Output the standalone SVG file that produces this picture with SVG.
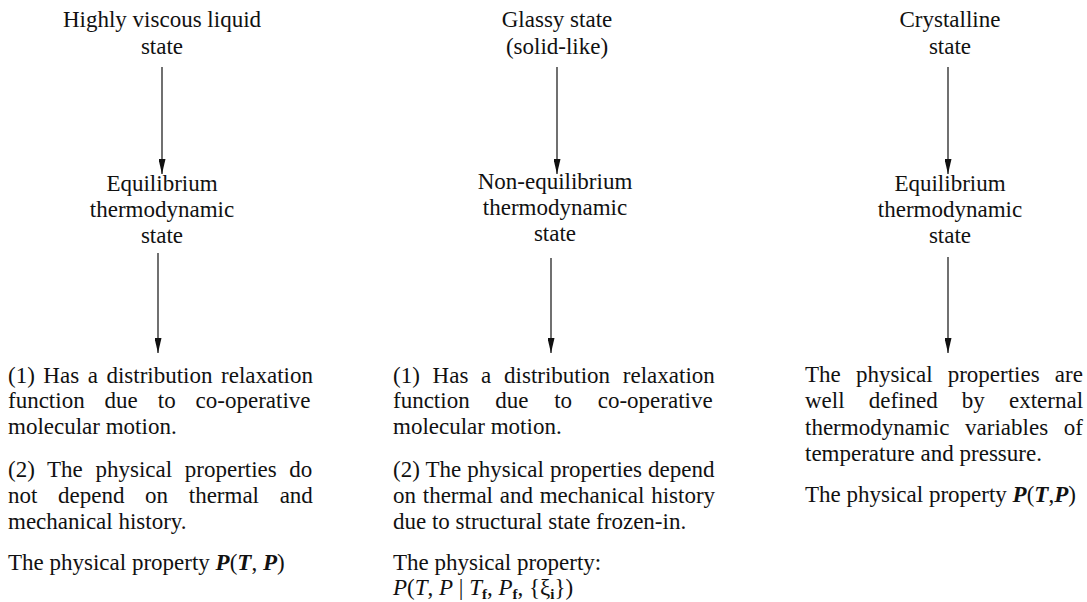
<svg xmlns="http://www.w3.org/2000/svg" width="1087" height="602" viewBox="0 0 1087 602">
<style>
  text { font-family: "Liberation Serif", "Times New Roman", serif; font-size: 23px; fill: #111; }
  .c { text-anchor: middle; }
  .bi { font-weight: bold; font-style: italic; }
  .it { font-style: italic; }
  .sub { font-size: 15px; font-weight: bold; }
  .conn { stroke: #111; stroke-width: 1.2; fill: none; marker-end: url(#ah); }
</style>
<defs>
  <marker id="ah" viewBox="0 0 15 7" refX="15" refY="3.5" markerWidth="15" markerHeight="7" markerUnits="userSpaceOnUse" orient="auto">
    <path d="M0,0 L15,3.5 L0,7 z" fill="#111"/>
  </marker>
</defs>
<rect width="1087" height="602" fill="#fff"/>

<g id="connectors">
  <line class="conn" x1="162" y1="67" x2="162" y2="174"/>
  <line class="conn" x1="158" y1="253" x2="158" y2="353"/>
  <line class="conn" x1="557" y1="67" x2="557" y2="174"/>
  <line class="conn" x1="551" y1="258" x2="551" y2="353"/>
  <line class="conn" x1="948" y1="67" x2="948" y2="174"/>
  <line class="conn" x1="948" y1="257" x2="948" y2="353"/>
</g>

<g id="liquid-state">
  <text class="c" x="162" y="27">Highly viscous liquid</text>
  <text class="c" x="162" y="54">state</text>
</g>
<g id="glassy-state">
  <text class="c" x="557" y="27">Glassy state</text>
  <text class="c" x="557" y="54">(solid-like)</text>
</g>
<g id="crystalline-state">
  <text class="c" x="950" y="27">Crystalline</text>
  <text class="c" x="950" y="54">state</text>
</g>

<g id="equilibrium-1">
  <text class="c" x="162" y="191">Equilibrium</text>
  <text class="c" x="162" y="217">thermodynamic</text>
  <text class="c" x="162" y="243">state</text>
</g>
<g id="non-equilibrium">
  <text class="c" x="555" y="189">Non-equilibrium</text>
  <text class="c" x="555" y="215">thermodynamic</text>
  <text class="c" x="555" y="241">state</text>
</g>
<g id="equilibrium-3">
  <text class="c" x="950" y="191">Equilibrium</text>
  <text class="c" x="950" y="217">thermodynamic</text>
  <text class="c" x="950" y="243">state</text>
</g>

<g id="liquid-properties">
  <text x="8" y="383" word-spacing="2.8">(1) Has a distribution relaxation</text>
  <text x="8" y="408" word-spacing="14.2">function due to co-operative</text>
  <text x="8" y="434">molecular motion.</text>
  <text x="8" y="477" word-spacing="6.9">(2) The physical properties do</text>
  <text x="8" y="503" word-spacing="14.9">not depend on thermal and</text>
  <text x="8" y="529">mechanical history.</text>
  <text x="8" y="570">The physical property <tspan class="bi">P</tspan><tspan>(</tspan><tspan class="bi">T</tspan>, <tspan class="bi">P</tspan>)</text>
</g>

<g id="glassy-properties">
  <text x="393" y="383" word-spacing="7">(1) Has a distribution relaxation</text>
  <text x="393" y="408" word-spacing="19.9">function due to co-operative</text>
  <text x="393" y="434">molecular motion.</text>
  <text x="393" y="477" word-spacing="0.3">(2) The physical properties depend</text>
  <text x="393" y="503" word-spacing="1">on thermal and mechanical history</text>
  <text x="393" y="529">due to structural state frozen-in.</text>
  <text x="393" y="570">The physical property:</text>
  <text x="393" y="595"><tspan class="it">P</tspan>(<tspan class="it">T</tspan>, <tspan class="it">P</tspan> | <tspan class="it">T</tspan><tspan class="sub" dy="4">f</tspan><tspan dy="-4">, </tspan><tspan class="it">P</tspan><tspan class="sub" dy="4">f</tspan><tspan dy="-4">, {ξ</tspan><tspan class="sub" dy="4">i</tspan><tspan dy="-4">})</tspan></text>
</g>

<g id="crystalline-properties">
  <text x="805" y="382" word-spacing="9.4">The physical properties are</text>
  <text x="805" y="408" word-spacing="18.4">well defined by external</text>
  <text x="805" y="435" word-spacing="10">thermodynamic variables of</text>
  <text x="805" y="461">temperature and pressure.</text>
  <text x="805" y="502">The physical property <tspan class="bi">P</tspan>(<tspan class="bi">T</tspan>,<tspan class="bi">P</tspan>)</text>
</g>
</svg>
